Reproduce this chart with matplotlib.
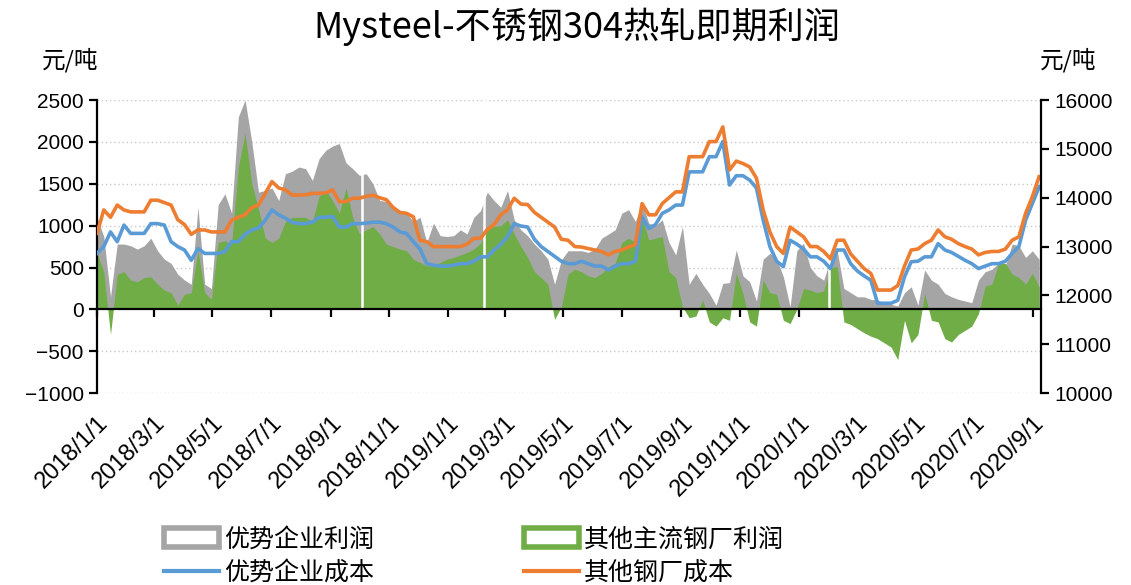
import numpy as np
import pandas as pd
import matplotlib
matplotlib.use('Agg')
import matplotlib.pyplot as plt
from matplotlib.patches import Patch
from matplotlib.lines import Line2D

# weekly data, starting 2018-01-01
dates = pd.date_range('2018-01-01', periods=141, freq='7D')

# 优势企业利润 (left axis)
gray_profit = [1100, 870, 150, 780, 780, 760, 720, 760, 850, 700,
               600, 550, 420, 350, 300, 1220, 300, 250, 1250, 1380,
               1150, 2300, 2500, 2000, 1400, 1420, 1450, 1300, 1620, 1650,
               1700, 1680, 1540, 1800, 1900, 1950, 1980, 1750, 1680, 1600,
               1620, 1500, 1300, 1290, 1230, 1180, 1150, 1050, 1100, 800,
               1030, 880, 870, 880, 950, 900, 1100, 1180, 1400, 1300,
               1220, 1420, 1070, 950, 880, 780, 700, 600, 300, 590,
               700, 700, 700, 680, 720, 850, 900, 950, 1150, 1190,
               1050, 1270, 1030, 1000, 1070, 800, 650, 990, 300, 430,
               300, 190, 50, 310, 320, 710, 400, 330, 100, 600,
               670, 600, 390, 30, 700, 790, 500, 400, 350, 600,
               700, 250, 200, 150, 150, 120, 110, 80, 60, 40,
               200, 270, 50, 470, 350, 300, 190, 150, 120, 100,
               80, 350, 450, 480, 550, 520, 780, 760, 620, 700,
               600]

# 其他主流钢厂利润 (left axis)
green_profit = [670, 450, -300, 420, 450, 350, 330, 380, 390, 300,
                230, 200, 50, 180, 200, 700, 200, 120, 800, 820,
                780, 1700, 2100, 1500, 1200, 850, 800, 850, 1050, 1100,
                1100, 1100, 1050, 1350, 1420, 1300, 1150, 1450, 1100, 900,
                950, 990, 900, 780, 750, 720, 700, 600, 560, 520,
                520, 560, 600, 620, 650, 680, 720, 790, 990, 990,
                1000, 1070, 900, 750, 620, 450, 380, 300, -120, 30,
                420, 480, 450, 400, 380, 430, 510, 550, 800, 850,
                800, 1100, 830, 850, 870, 450, 380, 30, -100, -80,
                110, -150, -200, -100, -130, 430, 190, -150, -200, 350,
                200, 180, -130, -170, 0, 250, 230, 200, 220, 500,
                510, -150, -180, -230, -280, -320, -350, -400, -450, -600,
                -130, -400, -300, 190, -130, -150, -350, -390, -300, -250,
                -200, -50, 280, 300, 550, 550, 420, 380, 300, 430,
                270]

# 优势企业成本 (right axis)
blue_cost = [12860, 13000, 13300, 13100, 13440, 13270, 13270, 13270, 13470, 13470,
             13440, 13100, 13000, 12930, 12720, 12960, 12860, 12860, 12860, 12900,
             13100, 13100, 13250, 13340, 13380, 13540, 13750, 13650, 13580, 13500,
             13470, 13470, 13500, 13600, 13600, 13620, 13400, 13400, 13470, 13470,
             13480, 13500, 13500, 13470, 13400, 13300, 13270, 13100, 12950, 12650,
             12620, 12600, 12600, 12620, 12650, 12650, 12700, 12790, 12790, 12930,
             13050, 13200, 13470, 13420, 13400, 13150, 13000, 12900, 12800, 12700,
             12650, 12650, 12700, 12650, 12600, 12600, 12520, 12600, 12650, 12650,
             12700, 13610, 13370, 13450, 13680, 13750, 13850, 13850, 14530, 14530,
             14530, 14840, 14840, 15150, 14260, 14450, 14450, 14360, 14200, 13540,
             13000, 12700, 12590, 13130, 13050, 12950, 12790, 12790, 12700, 12550,
             12930, 12930, 12650, 12500, 12400, 12310, 11840, 11840, 11840, 11900,
             12380, 12690, 12700, 12790, 12790, 13060, 12930, 12880, 12800, 12720,
             12650, 12550, 12600, 12650, 12650, 12700, 12860, 13000, 13540, 13880,
             14220]

# 其他钢厂成本 (right axis)
orange_cost = [13270, 13750, 13600, 13850, 13750, 13710, 13710, 13710, 13950, 13950,
               13900, 13850, 13550, 13450, 13250, 13340, 13340, 13300, 13300, 13300,
               13540, 13600, 13650, 13800, 13850, 14090, 14330, 14200, 14160, 14055,
               14055, 14060, 14090, 14090, 14100, 14160, 13920, 13920, 13990, 13990,
               14030, 14050, 14000, 13960, 13800, 13700, 13680, 13610, 13130, 13100,
               13000, 13000, 13000, 13000, 13000, 13050, 13170, 13170, 13350, 13450,
               13650, 13750, 13990, 13870, 13860, 13700, 13600, 13500, 13400, 13150,
               13130, 13000, 12990, 12960, 12930, 12900, 12830, 12900, 12930, 12990,
               13040, 13880, 13650, 13650, 13880, 14000, 14120, 14120, 14840, 14840,
               14840, 15150, 15150, 15450, 14570, 14750, 14700, 14630, 14400, 13750,
               13300, 13000, 12860, 13400, 13300, 13200, 13000, 13000, 12900, 12750,
               13130, 13130, 12850, 12700, 12550, 12450, 12110, 12110, 12110, 12200,
               12600, 12930, 12950, 13060, 13130, 13340, 13200, 13150, 13060, 13000,
               12950, 12830, 12880, 12900, 12900, 12950, 13130, 13200, 13680, 14020,
               14430]

# days with no profit data (thin white breaks in the areas)
gap_dates = ['2018-10-04', '2019-02-08', '2020-02-01']

tick_dates = pd.date_range('2018-01-01', '2020-09-01', freq='2MS')
tick_labels = [f'{d.year}/{d.month}/{d.day}' for d in tick_dates]

c_gray = '#A5A5A5'
c_green = '#70AD47'
c_blue = '#5B9BD5'
c_orange = '#ED7D31'

cjk = ['Noto Sans CJK SC', 'DejaVu Sans']
num = 'Liberation Sans'

fig = plt.figure(figsize=(11.31, 5.85), dpi=100)
ax = fig.add_axes([0.0858, 0.328, 0.8346, 0.501])

ax.fill_between(dates, 0, gray_profit, color=c_gray, lw=0, zorder=1)
ax.fill_between(dates, 0, green_profit, color=c_green, lw=0, zorder=2)
for g in gap_dates:
    ax.axvline(pd.Timestamp(g), color='white', lw=1.8, zorder=3)

ax.set_ylim(-1000, 2500)
ax.set_yticks(np.arange(-1000, 2501, 500))
ax.set_xlim(pd.Timestamp('2018-01-01'), pd.Timestamp('2020-09-09'))
for v in [-1000, -500, 500, 1000, 1500, 2000, 2500]:
    ax.axhline(v, color='#C8C8C8', lw=1, ls=(0, (1, 2)), zorder=0)

ax.spines['top'].set_visible(False)
ax.spines['right'].set_visible(False)
ax.spines['bottom'].set_position(('data', 0))
ax.spines['bottom'].set_linewidth(1.6)
ax.spines['bottom'].set_zorder(5)
ax.spines['left'].set_linewidth(1.6)
ax.set_xticks(tick_dates)
ax.set_xticklabels(tick_labels, rotation=45, ha='right', rotation_mode='anchor',
                   fontfamily=num, fontsize=17)
ax.tick_params(axis='x', direction='out', length=6, width=1.6, pad=68)
ax.tick_params(axis='y', direction='out', length=6, width=1.6, labelsize=15)
for t in ax.get_yticklabels():
    t.set_fontfamily(num)

ax2 = ax.twinx()
ax2.plot(dates, blue_cost, color=c_blue, lw=2.6)
ax2.plot(dates, orange_cost, color=c_orange, lw=2.6)
ax2.set_ylim(10000, 16000)
ax2.set_yticks(np.arange(10000, 16001, 1000))
ax2.spines['top'].set_visible(False)
ax2.spines['left'].set_visible(False)
ax2.spines['bottom'].set_visible(False)
ax2.spines['right'].set_linewidth(1.6)
ax2.tick_params(axis='y', direction='out', length=6, width=1.6, labelsize=15)
for t in ax2.get_yticklabels():
    t.set_fontfamily(num)

fig.text(0.51, 0.955, 'Mysteel-不锈钢304热轧即期利润', ha='center', va='center',
         fontsize=26, family=cjk)
fig.text(0.062, 0.897, '元/吨', ha='center', va='center', fontsize=17, family=cjk)
fig.text(0.944, 0.897, '元/吨', ha='center', va='center', fontsize=17, family=cjk)

handles = [Patch(facecolor='white', edgecolor=c_gray, lw=4),
           Line2D([], [], color=c_blue, lw=3),
           Patch(facecolor='white', edgecolor=c_green, lw=4),
           Line2D([], [], color=c_orange, lw=3)]
labels = ['优势企业利润', '优势企业成本', '其他主流钢厂利润', '其他钢厂成本']
fig.legend(handles, labels, loc='center', bbox_to_anchor=(0.419, 0.049), ncol=2,
           frameon=False, prop={'family': cjk, 'size': 18}, handlelength=2.2,
           handleheight=0.8, columnspacing=6.0, labelspacing=0.3, handletextpad=0.2)

fig.savefig('out.png', dpi=100)
